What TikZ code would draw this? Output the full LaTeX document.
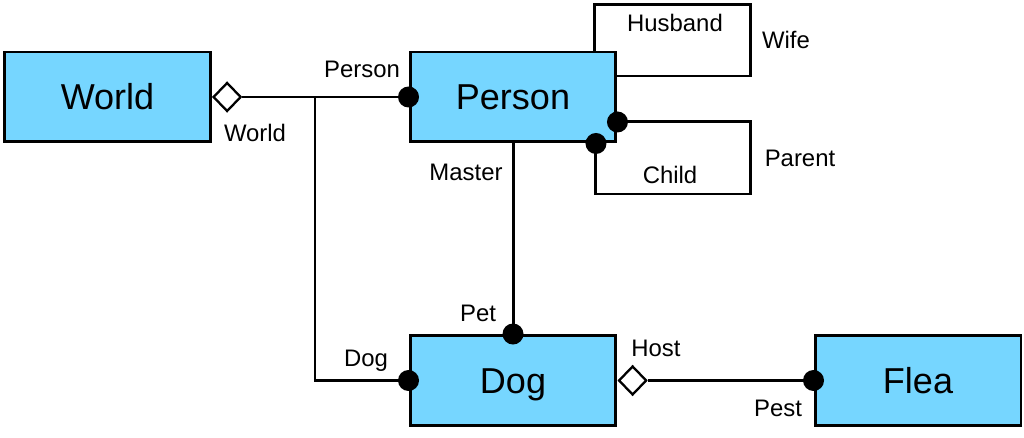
\documentclass[tikz,border=0pt]{standalone}
\usepackage{fontspec}
\setmainfont{Liberation Sans}
\usetikzlibrary{shapes.geometric}
\definecolor{classblue}{HTML}{76D6FF}

\begin{document}
\begin{tikzpicture}[x=0.02cm,y=-0.02cm,line width=1.7pt,
  cls/.style={draw,fill=classblue,minimum width=4.12cm,minimum height=1.8cm,inner sep=0pt,
    text height=14.7pt,text depth=0pt,font=\fontsize{20.5}{24}\selectfont},
  role/.style={inner sep=0pt,text height=9.7pt,text depth=0pt,font=\fontsize{13.6}{16}\selectfont},
  agg/.style={draw,fill=white,diamond,inner sep=0pt,minimum width=0.56cm,minimum height=0.58cm,line width=1.3pt}]
  \useasboundingbox (0,0) rectangle (1024,438);
  % classes
  \node[cls] (world) at (107.5,97) {World};
  \node[cls] (person) at (513,97) {Person};
  \node[cls] (dog) at (513,380.5) {Dog};
  \node[cls] (flea) at (918,380.5) {Flea};
  % aggregation ends
  \node[agg,anchor=west] (worldagg) at (world.east) {};
  \node[agg,anchor=west] (dogagg) at (dog.east) {};
  \coordinate (split) at (315,97);
  \coordinate (wifecorner) at (750,5);
  \coordinate (parentcorner) at (750,194);
  % associations
  \draw (worldagg.east) -- (person.west);
  \draw (split) |- (dog.west);
  \draw (person.south) -- (dog.north);
  \draw (dogagg.east) -- (flea.west);
  \draw ([xshift=-0.46cm]person.north east) |- (wifecorner) |- ([yshift=0.42cm]person.east);
  \draw ([yshift=-0.5cm]person.east) -| (parentcorner) -| ([xshift=1.66cm]person.south);
  % role dots
  \foreach \p in {person.west,dog.west,dog.north,flea.west}
    \fill (\p) circle (0.21cm);
  \fill ([yshift=-0.5cm]person.east) circle (0.21cm);
  \fill ([xshift=1.66cm]person.south) circle (0.21cm);
  % role names
  \node[role] (rperson) at (362,69) {Person};
  \node[role] (rworld) at (255,133) {World};
  \node[role] (rdog) at (366,358) {Dog};
  \node[role] (rmaster) at (466,172) {Master};
  \node[role] (rpet) at (478,313) {Pet};
  \node[role] (rhost) at (656,348) {Host};
  \node[role] (rpest) at (778,408) {Pest};
  \node[role] (rhusband) at (675,23) {Husband};
  \node[role] (rwife) at (786,40) {Wife};
  \node[role] (rparent) at (800,158) {Parent};
  \node[role] (rchild) at (670,175) {Child};
\end{tikzpicture}
\end{document}
